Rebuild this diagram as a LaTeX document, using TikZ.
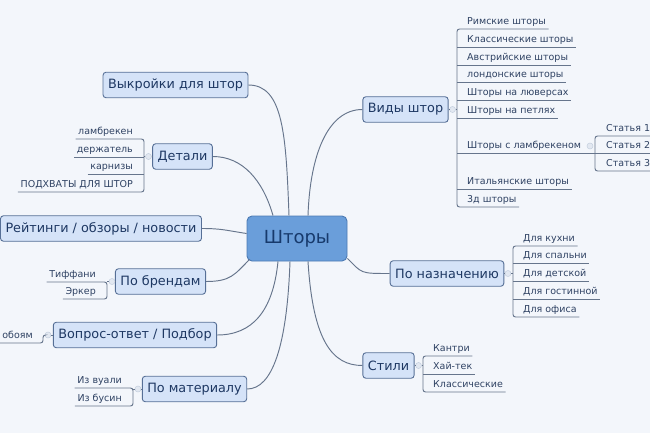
\documentclass[tikz,border=0pt]{standalone}
\usepackage{fontspec}
\setmainfont{DejaVu Sans}
\definecolor{bg}{HTML}{F3F6FB}
\definecolor{topicfill}{HTML}{D5E3F8}
\definecolor{topicborder}{HTML}{566F96}
\definecolor{topictext}{HTML}{1E3863}
\definecolor{centralfill}{HTML}{6A9EDA}
\definecolor{centralborder}{HTML}{4C7AB3}
\definecolor{centraltext}{HTML}{173A6C}
\definecolor{linecol}{HTML}{66758C}
\definecolor{subtext}{HTML}{2F4263}
\definecolor{tickfill}{HTML}{E2E8F1}
\definecolor{tickdraw}{HTML}{C3CEDE}
\tikzset{
  topic/.style={draw=topicborder, fill=topicfill, rounded corners=3pt, line width=0.9pt,
    font=\fontsize{12.8}{14}\selectfont, text=topictext, inner xsep=5pt, minimum height=25.5pt},
  central/.style={draw=centralborder, fill=centralfill, rounded corners=5pt, line width=0.9pt,
    font=\fontsize{18}{20}\selectfont, text=centraltext, minimum width=100pt, minimum height=45pt},
  sub/.style={font=\fontsize{9.5}{11}\selectfont, text=subtext, inner xsep=2.5pt, inner ysep=1.5pt,
    text height=7pt, text depth=2.5pt},
  subr/.style={sub, anchor=south west},
  subl/.style={sub, anchor=south east},
  conn/.style={draw=linecol, line width=0.95pt},
  brk/.style={conn, rounded corners=2.5pt},
  tick/.style={circle, fill=tickfill, draw=tickdraw, line width=0.5pt, inner sep=0pt, minimum size=6pt},
}
\begin{document}
\begin{tikzpicture}[x=1pt,y=-1pt]
\fill[bg] (0,0) rectangle (650,433);
\useasboundingbox (0,0) rectangle (650,433);

% central and main topics
\node[central] (c) at (297,238.5) {Шторы};
\node[topic] (vyk) at (175.5,85) {Выкройки для штор};
\node[topic] (det) at (182.5,156.5) {Детали};
\node[topic] (rey) at (101,228.5) {Рейтинги / обзоры / новости};
\node[topic] (bre) at (160.5,281.5) {По брендам};
\node[topic] (vop) at (135,335) {Вопрос-ответ / Подбор};
\node[topic] (mat) at (194.5,389) {По материалу};
\node[topic] (vid) at (405.5,109.5) {Виды штор};
\node[topic] (naz) at (447,273.5) {По назначению};
\node[topic] (sti) at (388.5,365.5) {Стили};

% main connectors
\draw[conn] ([xshift=11pt]c.north) .. controls +(2,-60) and +(-35,0) .. (vid.west);
\draw[conn] ([xshift=-8pt]c.north) .. controls +(-3,-80) and +(35,0) .. (vyk.east);
\draw[conn] ([xshift=-24pt]c.north) .. controls +(-10,-35) and +(30,0) .. (det.east);
\draw[conn] ([yshift=5pt]c.west) .. controls +(-20,-3) and +(20,0) .. (rey.east);
\draw[conn] ([xshift=3pt,yshift=2pt]c.south west) .. controls +(-15,15) and +(25,0) .. (bre.east);
\draw[conn] ([xshift=-19pt]c.south) .. controls +(-5,50) and +(35,0) .. (vop.east);
\draw[conn] ([xshift=-7pt]c.south) .. controls +(-3,85) and +(25,0) .. (mat.east);
\draw[conn] ([xshift=11pt]c.south) .. controls +(5,80) and +(-30,0) .. (sti.west);
\draw[conn] ([yshift=3pt]c.south east) .. controls +(15,15) and +(-30,0) .. (naz.west);

% ---- Виды штор
\coordinate (vbr) at (457,109.5);
\node[subr] (v1) at (464.5,29) {Римские шторы};
\node[subr] (v2) at (464.5,47) {Классические шторы};
\node[subr] (v3) at (464.5,65) {Австрийские шторы};
\node[subr] (v4) at (464.5,82) {лондонские шторы};
\node[subr] (v5) at (464.5,100) {Шторы на люверсах};
\node[subr] (v6) at (464.5,118) {Шторы на петлях};
\node[subr] (v7) at (464.5,153) {Шторы с ламбрекеном};
\node[subr] (v8) at (464.5,189) {Итальянские шторы};
\node[subr] (v9) at (464.5,207) {3д шторы};
\draw[brk] (v1.south east) -- (v1.south -| vbr) -- (v9.south -| vbr) -- (v9.south east);
\foreach \n in {v2,v3,v4,v5,v6,v8} \draw[conn] (\n.south -| vbr) -- (\n.south east);
\node[tick] (vidk) at (452.5,109.5) {};
\draw[conn] (vid.east) -- (vidk) -- (vbr);

% ---- Статья
\coordinate (sbr) at (595,153);
\node[subr] (s1) at (603.5,136) {Статья 1};
\node[subr] (s2) at (603.5,153) {Статья 2};
\node[subr] (s3) at (603.5,171) {Статья 3};
\draw[conn] (v7.south -| vbr) -- (sbr);
\draw[brk] (s1.south east) -- (s1.south -| sbr) -- (s3.south -| sbr) -- (s3.south east);
\draw[conn] (sbr) -- (s2.south east);
\node[tick] (v7k) at (590,146) {};

% ---- Детали
\coordinate (dbr) at (144,156.5);
\node[subl] (d1) at (135.5,139) {ламбрекен};
\node[subl] (d2) at (135.5,157) {держатель};
\node[subl] (d3) at (135.5,174) {карнизы};
\node[subl] (d4) at (135.5,192) {ПОДХВАТЫ ДЛЯ ШТОР};
\draw[brk] (d1.south west) -- (d1.south -| dbr) -- (d4.south -| dbr) -- (d4.south west);
\foreach \n in {d2,d3} \draw[conn] (\n.south west) -- (\n.south -| dbr);
\node[tick] (detk) at (148.5,156.5) {};
\draw[conn] (det.west) -- (detk) -- (dbr);

% ---- По брендам
\coordinate (bbr) at (107,281.5);
\node[subl] (b1) at (98.5,282) {Тиффани};
\node[subl] (b2) at (98.5,299) {Эркер};
\draw[brk] (b1.south west) -- (b1.south -| bbr) -- (b2.south -| bbr) -- (b2.south west);
\node[tick] (brek) at (112,281.5) {};
\draw[conn] (bre.west) -- (brek) -- (bbr);

% ---- Вопрос-ответ
\coordinate (qbr) at (43,335);
\node[subl] (q1) at (35.5,343) {обоям};
\node[tick] (vopk) at (48,335) {};
\draw[conn] (vop.west) -- (vopk);
\draw[brk] (vopk) -- (qbr) -- (q1.south -| qbr) -- (q1.south west);

% ---- По материалу
\coordinate (mbr) at (133,389);
\node[subl] (m1) at (124.5,388) {Из вуали};
\node[subl] (m2) at (124.5,406) {Из бусин};
\draw[brk] (m1.south west) -- (m1.south -| mbr) -- (m2.south -| mbr) -- (m2.south west);
\node[tick] (matk) at (138,389) {};
\draw[conn] (mat.west) -- (matk) -- (mbr);

% ---- По назначению
\coordinate (nbr) at (513,273.5);
\node[subr] (n1) at (520.5,246) {Для кухни};
\node[subr] (n2) at (520.5,263) {Для спальни};
\node[subr] (n3) at (520.5,281) {Для детской};
\node[subr] (n4) at (520.5,299) {Для гостинной};
\node[subr] (n5) at (520.5,317) {Для офиса};
\draw[brk] (n1.south east) -- (n1.south -| nbr) -- (n5.south -| nbr) -- (n5.south east);
\foreach \n in {n2,n3,n4} \draw[conn] (\n.south -| nbr) -- (\n.south east);
\node[tick] (nazk) at (508,273.5) {};
\draw[conn] (naz.east) -- (nazk) -- (nbr);

% ---- Стили
\coordinate (tbr) at (423,365.5);
\node[subr] (t1) at (430.5,356) {Кантри};
\node[subr] (t2) at (430.5,374) {Хай-тек};
\node[subr] (t3) at (430.5,392) {Классические};
\draw[brk] (t1.south east) -- (t1.south -| tbr) -- (t3.south -| tbr) -- (t3.south east);
\draw[conn] (t2.south -| tbr) -- (t2.south east);
\node[tick] (stik) at (418.5,365.5) {};
\draw[conn] (sti.east) -- (stik) -- (tbr);
\end{tikzpicture}
\end{document}
